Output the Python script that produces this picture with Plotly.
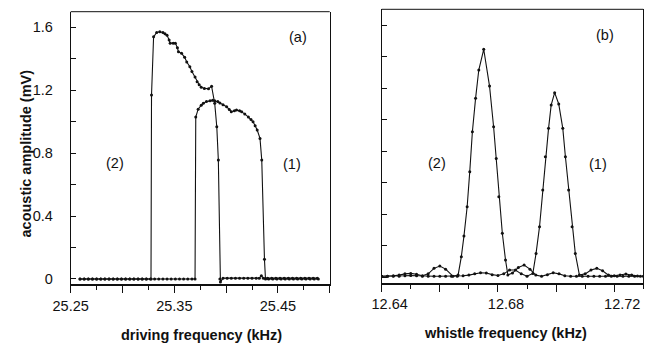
import plotly.graph_objects as go

# ---------------- data: panel (a) driving-frequency sweep ----------------
freq_a1 = [25.259, 25.263, 25.267, 25.271, 25.275, 25.279, 25.283, 25.287, 25.291, 25.295,
           25.299, 25.303, 25.307, 25.311, 25.315, 25.319, 25.323, 25.327, 25.331, 25.335,
           25.339, 25.343, 25.347, 25.351, 25.355, 25.359, 25.363, 25.367, 25.3700, 25.3707,
           25.373, 25.376, 25.378, 25.381, 25.3845, 25.387, 25.389, 25.392, 25.394, 25.397,
           25.4005, 25.403, 25.405, 25.408, 25.410, 25.413, 25.415, 25.418, 25.4215, 25.424,
           25.426, 25.428, 25.430, 25.4327, 25.4344, 25.437, 25.438, 25.441, 25.445, 25.449,
           25.453, 25.457, 25.461, 25.465, 25.469, 25.473, 25.477, 25.481, 25.485, 25.489]
amp_a1 = [0.0, 0.0, 0.0, 0.0, 0.0, 0.0, 0.0, 0.0, 0.0, 0.0,
          0.0, 0.0, 0.0, 0.0, 0.0, 0.0, 0.0, 0.0, 0.0, 0.0,
          0.0, 0.0, 0.0, 0.0, 0.0, 0.0, 0.0, 0.0, 0.0, 1.03,
          1.08, 1.105, 1.117, 1.128, 1.134, 1.136, 1.134, 1.128, 1.12, 1.108,
          1.095, 1.078, 1.064, 1.07, 1.074, 1.07, 1.064, 1.05, 1.03, 1.015,
          1.0, 0.975, 0.947, 0.894, 0.757, 0.125, 0.0, 0.0, 0.0, 0.0,
          0.0, 0.0, 0.0, 0.0, 0.0, 0.0, 0.0, 0.0, 0.0, 0.0]

freq_a2 = [25.259, 25.263, 25.267, 25.271, 25.275, 25.279, 25.283, 25.287, 25.291, 25.295,
           25.299, 25.303, 25.307, 25.311, 25.315, 25.319, 25.323, 25.3275, 25.328, 25.330,
           25.333, 25.336, 25.339, 25.341, 25.343, 25.345, 25.346, 25.349, 25.351, 25.353,
           25.354, 25.357, 25.360, 25.362, 25.365, 25.367, 25.370, 25.372, 25.374, 25.376,
           25.379, 25.383, 25.386, 25.389, 25.391, 25.3925, 25.394, 25.3945, 25.397, 25.401,
           25.405, 25.409, 25.413, 25.417, 25.421, 25.425, 25.429, 25.432, 25.434, 25.436,
           25.440, 25.444, 25.448, 25.452, 25.456, 25.460, 25.464, 25.468, 25.472, 25.476,
           25.480, 25.484, 25.488]
amp_a2 = [0.0, 0.0, 0.0, 0.0, 0.0, 0.0, 0.0, 0.0, 0.0, 0.0,
          0.0, 0.0, 0.0, 0.0, 0.0, 0.0, 0.0, 0.0, 1.17, 1.54,
          1.568, 1.572, 1.568, 1.56, 1.55, 1.52, 1.50, 1.50, 1.50, 1.47,
          1.445, 1.435, 1.41, 1.38, 1.35, 1.32, 1.285, 1.255, 1.235, 1.22,
          1.212, 1.21, 1.225, 1.117, 0.968, 0.757, 0.0, -0.02, 0.005, 0.005,
          0.005, 0.005, 0.005, 0.005, 0.005, 0.005, 0.005, 0.005, 0.02, 0.005,
          0.005, 0.005, 0.005, 0.005, 0.005, 0.005, 0.005, 0.005, 0.005, 0.005,
          0.005, 0.005, 0.005]

# ---------------- data: panel (b) whistle spectra ----------------
freq_b1 = [12.640, 12.642, 12.644, 12.646, 12.648, 12.650, 12.652, 12.654, 12.656, 12.658,
           12.660, 12.662, 12.664, 12.666, 12.668, 12.670, 12.672, 12.674, 12.676, 12.678,
           12.680, 12.682, 12.684, 12.686, 12.688, 12.690, 12.692, 12.6931, 12.6943, 12.6954,
           12.6963, 12.6974, 12.6983, 12.6995, 12.7009, 12.7023, 12.7032, 12.7043, 12.7055, 12.7066,
           12.708, 12.710, 12.712, 12.714, 12.716, 12.718, 12.720, 12.722, 12.724, 12.726,
           12.728, 12.730]
amp_b1 = [0.005, 0.005, 0.005, 0.005, 0.008, 0.01, 0.008, 0.005, 0.005, 0.005,
          0.005, 0.005, 0.005, 0.005, 0.008, 0.012, 0.02, 0.027, 0.025, 0.015,
          0.01, 0.02, 0.045, 0.045, 0.02, 0.005, 0.023, 0.15, 0.32, 0.553,
          0.765, 0.945, 1.093, 1.172, 1.10, 0.945, 0.765, 0.553, 0.32, 0.15,
          0.013, 0.02, 0.045, 0.055, 0.04, 0.012, 0.008, 0.012, 0.019, 0.012,
          0.006, 0.005]

freq_b2 = [12.640, 12.642, 12.644, 12.646, 12.648, 12.650, 12.652, 12.654, 12.656, 12.658,
           12.660, 12.662, 12.6645, 12.6663, 12.6674, 12.6683, 12.6694, 12.6703, 12.6712, 12.6723,
           12.6734, 12.6751, 12.6771, 12.6785, 12.6794, 12.6803, 12.6815, 12.6826, 12.6834, 12.685,
           12.687, 12.689, 12.691, 12.693, 12.695, 12.697, 12.699, 12.701, 12.703, 12.705,
           12.707, 12.709, 12.711, 12.713, 12.715, 12.717, 12.719, 12.721, 12.723, 12.725,
           12.727, 12.729]
amp_b2 = [0.005, 0.005, 0.008, 0.012, 0.02, 0.023, 0.018, 0.008, 0.02, 0.055,
          0.07, 0.05, 0.005, 0.013, 0.129, 0.26, 0.447, 0.67, 0.924, 1.136,
          1.316, 1.448, 1.214, 0.955, 0.754, 0.51, 0.278, 0.108, 0.013, 0.025,
          0.06, 0.076, 0.05, 0.012, 0.005, 0.015, 0.027, 0.02, 0.008, 0.005,
          0.005, 0.005, 0.005, 0.005, 0.005, 0.005, 0.005, 0.005, 0.005, 0.005,
          0.005, 0.005]

# tick definitions
a_xticks = [25.25, 25.30, 25.35, 25.40, 25.45, 25.50]
a_xtext = ["25.25", "", "25.35", "", "25.45", ""]
a_xminor = [25.275, 25.325, 25.375, 25.425, 25.475]
b_xticks = [12.64, 12.66, 12.68, 12.70, 12.72]
b_xtext = ["12.64", "", "12.68", "", "12.72"]
b_xminor = [12.65, 12.67, 12.69, 12.71, 12.73]
yticks = [0, 0.2, 0.4, 0.6, 0.8, 1.0, 1.2, 1.4, 1.6]
a_ytext = ["0", "", "0.4", "", "0.8", "", "1.2", "", "1.6"]

FONT = "Arial, Liberation Sans, sans-serif"
INK = "#111111"

fig = go.Figure()
line_style = dict(color=INK, width=1.1)
marker_style = dict(color=INK, size=3)
fig.add_trace(go.Scatter(x=freq_a1, y=amp_a1, mode="lines+markers", line=line_style,
                         marker=marker_style, xaxis="x", yaxis="y", name="(1)"))
fig.add_trace(go.Scatter(x=freq_a2, y=amp_a2, mode="lines+markers", line=line_style,
                         marker=marker_style, xaxis="x", yaxis="y", name="(2)"))
fig.add_trace(go.Scatter(x=freq_b1, y=amp_b1, mode="lines+markers", line=line_style,
                         marker=marker_style, xaxis="x2", yaxis="y2", name="(1)"))
fig.add_trace(go.Scatter(x=freq_b2, y=amp_b2, mode="lines+markers", line=line_style,
                         marker=marker_style, xaxis="x2", yaxis="y2", name="(2)"))

tickfont = dict(family=FONT, size=14.5, color=INK)
common_x = dict(showline=True, linecolor=INK, linewidth=2, ticks="outside", ticklen=7,
                tickwidth=1, tickcolor=INK, showgrid=False, zeroline=False,
                tickmode="array", tickfont=tickfont, automargin=False)
common_y = dict(showline=True, linecolor=INK, linewidth=1, mirror=True, ticks="inside",
                ticklen=5, tickwidth=1, tickcolor=INK, showgrid=False, zeroline=False,
                tickmode="array", tickvals=yticks, tickfont=tickfont, automargin=False)

fig.update_layout(
    width=651, height=346,
    autosize=False,
    margin=dict(l=0, r=0, t=0, b=0, pad=0),
    paper_bgcolor="white", plot_bgcolor="white",
    showlegend=False,
    xaxis=dict(domain=[0.1086, 0.5065], range=[25.25, 25.50], anchor="y",
               tickvals=a_xticks, ticktext=a_xtext,
               minor=dict(tickmode="array", tickvals=a_xminor, ticks="outside",
                          ticklen=4, tickcolor=INK, tickwidth=1),
               **common_x),
    yaxis=dict(domain=[0.1783, 0.9662], range=[-0.034, 1.70], anchor="x",
               ticktext=a_ytext, ticklabelstandoff=14, **common_y),
    xaxis2=dict(domain=[0.5863, 0.9882], range=[12.64, 12.73], anchor="y2",
                tickvals=b_xticks, ticktext=b_xtext, ticklabelshift=8,
                minor=dict(tickmode="array", tickvals=b_xminor, ticks="outside",
                           ticklen=4, tickcolor=INK, tickwidth=1),
                **common_x),
    yaxis2=dict(domain=[0.1835, 0.9731], range=[-0.035, 1.702], anchor="x2",
                showticklabels=False, **common_y),
)

# top border lines of both frames
for xr, yr in (("x domain", "y domain"), ("x2 domain", "y2 domain")):
    fig.add_shape(type="line", xref=xr, yref=yr, x0=0, x1=1, y0=1, y1=1,
                  line=dict(color=INK, width=1))

lab = dict(family=FONT, size=14.5, color=INK)
titlef = dict(family=FONT, size=14.5, color=INK)
ann = [
    dict(x=25.469, y=1.54, xref="x", yref="y", text="(a)"),
    dict(x=25.293, y=0.736, xref="x", yref="y", text="(2)"),
    dict(x=25.464, y=0.731, xref="x", yref="y", text="(1)"),
    dict(x=12.7169, y=1.54, xref="x2", yref="y2", text="(b)"),
    dict(x=12.6589, y=0.723, xref="x2", yref="y2", text="(2)"),
    dict(x=12.7145, y=0.718, xref="x2", yref="y2", text="(1)"),
]
for a in ann:
    fig.add_annotation(showarrow=False, font=lab, xanchor="center", yanchor="middle", **a)

fig.add_annotation(x=201.3 / 651, y=1 - 335 / 346, xref="paper", yref="paper",
                   text="<b>driving frequency (kHz)</b>", showarrow=False, font=titlef,
                   xanchor="center", yanchor="middle")
fig.add_annotation(x=505 / 651, y=1 - 333 / 346, xref="paper", yref="paper",
                   text="<b>whistle frequency (kHz)</b>", showarrow=False, font=titlef,
                   xanchor="center", yanchor="middle")
fig.add_annotation(x=25 / 651, y=1 - 153.5 / 346, xref="paper", yref="paper",
                   text="<b>acoustic amplitude (mV)</b>", showarrow=False, font=titlef,
                   textangle=-90, xanchor="center", yanchor="middle")

fig.write_html("out.html", config={"displayModeBar": False},
               post_script="document.body.style.margin='0px';")
